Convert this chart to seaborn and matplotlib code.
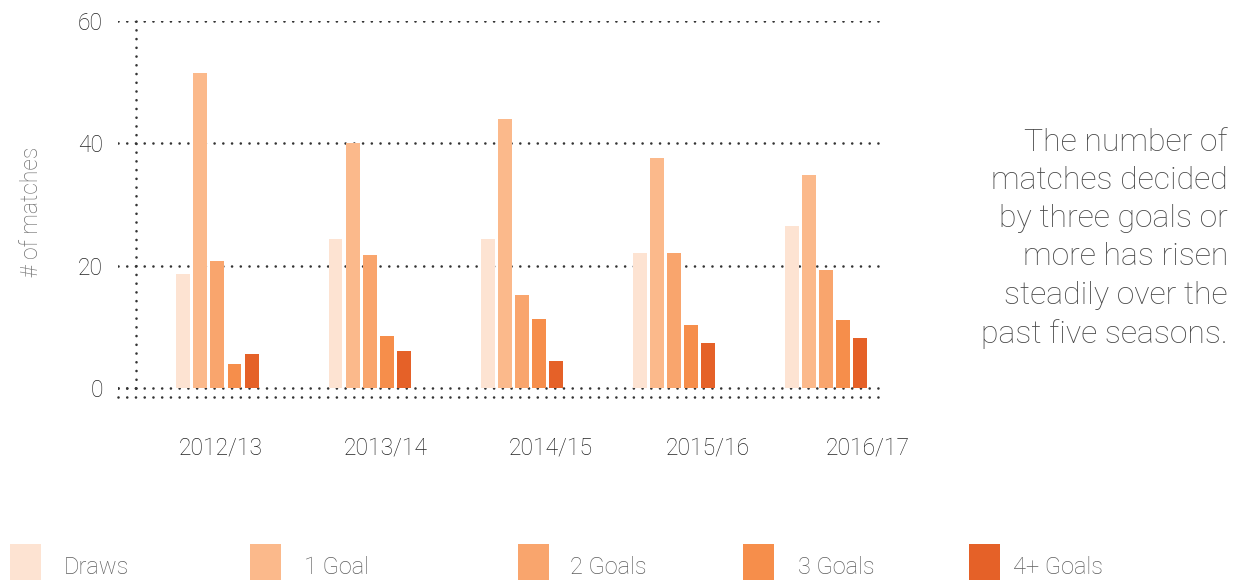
import numpy as np
import pandas as pd
import matplotlib
matplotlib.use("Agg")
import matplotlib.pyplot as plt
import seaborn as sns

# ---- data ----
seasons = ["2012/13", "2013/14", "2014/15", "2015/16", "2016/17"]
outcomes = ["Draws", "1 Goal", "2 Goals", "3 Goals", "4+ Goals"]
draws = [18.7, 24.3, 24.3, 22.0, 26.5]
one_goal = [51.4, 40.0, 44.0, 37.6, 34.8]
two_goals = [20.8, 21.7, 15.2, 22.0, 19.3]
three_goals = [3.9, 8.5, 11.3, 10.3, 11.1]
four_plus = [5.6, 6.0, 4.4, 7.4, 8.2]
y_ticks = [0, 20, 40, 60]
annotation = ("The number of\nmatches decided\nby three goals or\n"
              "more has risen\nsteadily over the\npast five seasons.")
y_label = "# of matches"

colors = ["#FDE3D2", "#FBB98B", "#F9A56D", "#F68E4B", "#E56128"]

series = [draws, one_goal, two_goals, three_goals, four_plus]
df = pd.DataFrame({
    "season": np.tile(seasons, len(outcomes)),
    "outcome": np.repeat(outcomes, len(seasons)),
    "count": np.concatenate(series),
})

sns.set_theme(style="white")
plt.rcParams["font.family"] = ["Roboto", "DejaVu Sans"]

W, H = 1233, 580
fig = plt.figure(figsize=(W / 100, H / 100), dpi=100)
ax = fig.add_axes([118 / W, (H - 397) / H, (885 - 118) / W, (397 - 20.7) / H])

sns.barplot(data=df, x="season", y="count", hue="outcome", order=seasons,
            hue_order=outcomes, palette=colors, saturation=1, width=0.56,
            gap=0.18, ax=ax, edgecolor="none")

handles, labels = ax.get_legend_handles_labels()
if ax.get_legend() is not None:
    ax.get_legend().remove()

ax.set_xlim(-0.654, 4.389)
ax.set_ylim(-1.47, 60)
ax.set_yticks(y_ticks)
ax.set_yticklabels([str(v) for v in y_ticks])

dot = (0, (0.01, 3.3))
gcol = "#333333"
lw = 1.9
ax.set_axisbelow(True)
ax.yaxis.grid(True, linestyle=dot, linewidth=lw, color=gcol,
              dash_capstyle="round")
for gl in ax.get_ygridlines():
    gl.set_clip_on(False)
    gl.set_dash_capstyle("round")
ax.get_ygridlines()[0].set_visible(False)
spine_frac = (136 - 118) / (885 - 118)
ax.axhline(0, xmin=0, xmax=spine_frac, linestyle=dot, linewidth=lw,
           color=gcol, dash_capstyle="round", zorder=0)

for s in ["top", "right"]:
    ax.spines[s].set_visible(False)
ax.spines["left"].set_position(("axes", spine_frac))
ax.spines["left"].set_bounds(0, 60)
for s in ["left", "bottom"]:
    sp = ax.spines[s]
    sp.set_linestyle(dot)
    sp.set_linewidth(lw)
    sp.set_edgecolor(gcol)
    sp.set_capstyle("round")

# tick labels (offset positions mimic the original)
label_offsets = [0.02, 0.108, 0.193, 0.225, 0.277]
ax.set_xticks([i + o for i, o in enumerate(label_offsets)])
ax.set_xticklabels(seasons)
ax.tick_params(axis="x", length=0, pad=28.5, labelsize=16.5, labelcolor="#222222")
ax.tick_params(axis="y", length=0, pad=24, labelsize=16.5, labelcolor="#222222")
for t in ax.get_xticklabels() + ax.get_yticklabels():
    t.set_fontweight("light")
ax.set_xlabel("")
ax.set_ylabel("")

fig.text(32 / W, 1 - 212 / H, y_label, rotation=90, ha="center", va="center",
         fontsize=16.5, color="#707070", fontweight="light")

fig.text(1228 / W, 1 - 343 / H, annotation, ha="right", va="baseline",
         fontsize=23, color="#484848", fontweight="light", linespacing=1.40)

legend_x = [10, 250, 518, 743, 969]
text_gap = [23, 23, 21, 24, 13]
fs = 17
fpx = fs * 100 / 72
for h, lab, x, g in zip(handles, labels, legend_x, text_gap):
    leg = fig.legend(handles=[h], labels=[lab], loc="upper left",
                     bbox_to_anchor=(x / W, 1 - 544 / H), frameon=False,
                     borderpad=0, borderaxespad=0, fontsize=fs,
                     handlelength=31 / fpx, handleheight=62 / fpx,
                     handletextpad=g / fpx, labelcolor="#5e5e5e")
    for t in leg.get_texts():
        t.set_fontweight("light")

fig.savefig("out.png", dpi=100)
